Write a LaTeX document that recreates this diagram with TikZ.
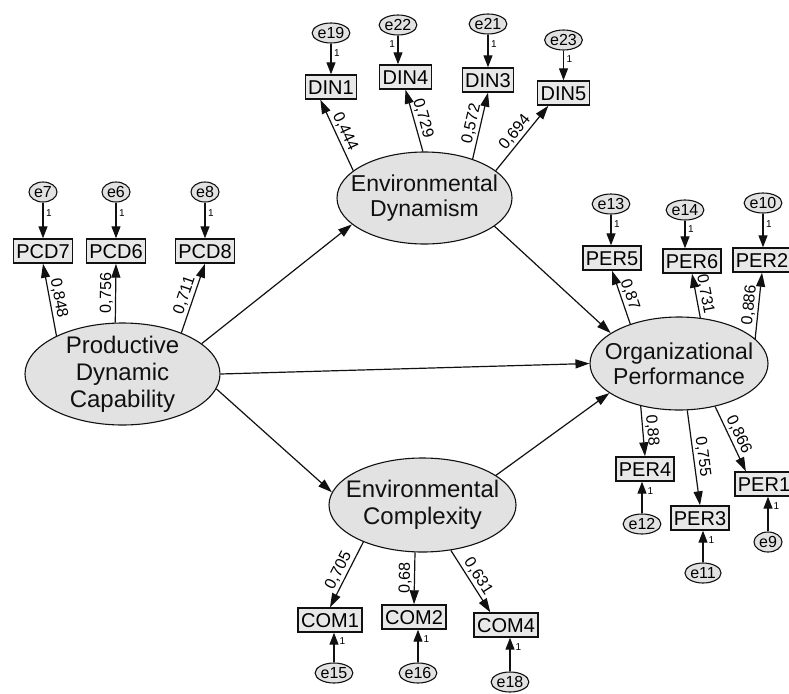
\documentclass[tikz,border=0pt]{standalone}
\usepackage{fontspec}
\setmainfont{Liberation Sans}
\usetikzlibrary{shapes.geometric,arrows.meta}
\definecolor{latfill}{HTML}{E2E2E2}
\definecolor{boxfill}{HTML}{E8E8E8}
\definecolor{linec}{HTML}{111111}
\begin{document}
\begin{tikzpicture}[x=1pt,y=-1pt,
 latent/.style={ellipse,draw=linec,line width=1.1pt,fill=latfill,inner sep=0pt},
 lattext/.style={align=center,inner sep=0pt,text=linec},
 obs/.style={rectangle,draw=linec,line width=1.4pt,fill=boxfill,font=\fontsize{20}{22}\selectfont,inner xsep=3pt,inner ysep=0pt,minimum height=24pt,text height=14.5pt,text depth=0pt},
 err/.style={ellipse,draw=linec,line width=1.1pt,fill=latfill,inner sep=0pt,minimum width=34pt,minimum height=20pt,font=\fontsize{16}{16}\selectfont},
 errs/.style={err,minimum width=28pt},
 arr/.style={draw=linec,line width=1.2pt,-{Triangle[length=14pt,width=9pt]}},
 earr/.style={draw=linec,line width=1.2pt,-{Triangle[length=12pt,width=9pt]}},
 lab/.style={font=\fontsize{16}{16}\selectfont,inner sep=2pt,midway,sloped,above},
 one/.style={font=\fontsize{10}{10}\selectfont,inner sep=1pt}
]
\useasboundingbox (0,0) rectangle (789,693);
\fill[white] (0,0) rectangle (789,693);

% latent variables
\node[latent,minimum width=195pt,minimum height=102pt] (PCD) at (122.5,374) {};
\node[lattext,font=\fontsize{24}{27}\selectfont] at (PCD) {Productive\\Dynamic\\Capability};
\node[latent,minimum width=175pt,minimum height=92pt] (ED) at (424.5,198) {};
\node[lattext,font=\fontsize{23}{25}\selectfont] at (ED) {Environmental\\Dynamism};
\node[latent,minimum width=178pt,minimum height=93pt] (OP) at (679,363.5) {};
\node[lattext,font=\fontsize{23}{25}\selectfont] at (OP) {Organizational\\Performance};
\node[latent,minimum width=187pt,minimum height=94pt] (EC) at (422.5,505) {};
\node[lattext,font=\fontsize{24}{27}\selectfont] at (EC) {Environmental\\Complexity};

% observed variables
\node[obs] (DIN1) at (331,87) {DIN1};
\node[obs] (DIN4) at (405.5,77) {DIN4};
\node[obs] (DIN3) at (488,80) {DIN3};
\node[obs] (DIN5) at (563.5,93) {DIN5};
\node[obs] (PCD7) at (43,251) {PCD7};
\node[obs] (PCD6) at (116,251) {PCD6};
\node[obs] (PCD8) at (205,251) {PCD8};
\node[obs] (PER5) at (612,258) {PER5};
\node[obs] (PER6) at (692,261) {PER6};
\node[obs] (PER2) at (762,260) {PER2};
\node[obs] (PER4) at (645,469) {PER4};
\node[obs] (PER3) at (700,518) {PER3};
\node[obs] (PER1) at (764,484) {PER1};
\node[obs] (COM1) at (330,620) {COM1};
\node[obs] (COM2) at (414,617) {COM2};
\node[obs] (COM4) at (506,625) {COM4};

% error terms
\node[err] (e19) at (331,33) {e19};
\node[err] (e22) at (398,25) {e22};
\node[err] (e21) at (488,24) {e21};
\node[err] (e23) at (563.5,40) {e23};
\node[errs] (e7) at (43,192) {e7};
\node[errs] (e6) at (116,192) {e6};
\node[errs] (e8) at (205,192) {e8};
\node[err] (e13) at (611,204) {e13};
\node[err] (e14) at (685,210) {e14};
\node[err] (e10) at (763,203) {e10};
\node[err] (e12) at (642,524) {e12};
\node[err] (e11) at (703,573) {e11};
\node[errs] (e9) at (768,542) {e9};
\node[err] (e15) at (334,673) {e15};
\node[err] (e16) at (418,673) {e16};
\node[err] (e18) at (510,682) {e18};

% structural paths
\draw[arr] (PCD.21) -- (ED.-160.6);
\draw[arr] (PCD.0) -- (OP.180);
\draw[arr] (PCD.-9.5) -- (EC.172.4);
\draw[arr] (ED.-22.5) -- (OP.156.4);
\draw[arr] (EC.22.5) -- (OP.-157.4);

% loadings
\draw[arr] (ED.159) -- (DIN1.-130) node[lab]{0,444};
\draw[arr] (ED.92) -- (DIN4.south) node[lab]{0,729};
\draw[arr] (ED.39.5) -- (DIN3.south) node[lab]{0,572};
\draw[arr] (ED.21) -- (DIN5.-140) node[lab]{0,694};
\draw[arr] (PCD.150) -- (PCD7.south) node[lab]{0,848};
\draw[arr] (PCD.98) -- (PCD6.south) node[lab]{0,756};
\draw[arr] (PCD.35) -- (PCD8.south) node[lab]{0,711};
\draw[arr] (OP.141.5) -- (PER5.south) node[lab]{0,87};
\draw[arr] (OP.65.7) -- (PER6.south) node[lab]{0,731};
\draw[arr] (OP.18.5) -- (PER2.south) node[lab]{0,886};
\draw[arr] (OP.-132) -- (PER4.north) node[lab]{0,88};
\draw[arr] (OP.-80.5) -- (PER3.north) node[lab]{0,755};
\draw[arr] (OP.-50) -- (PER1.145) node[lab]{0,866};
\draw[arr] (EC.-148) -- (COM1.north) node[lab]{0,705};
\draw[arr] (EC.-99) -- (COM2.north) node[lab]{0,68};
\draw[arr] (EC.-58) -- (COM4.141) node[lab]{0,631};

% error arrows (top)
\draw[earr] (e19.south) -- (e19.south |- DIN1.north) node[one,pos=0.3,right,xshift=1.5pt]{1};
\draw[earr] (e22.south) -- (e22.south |- DIN4.north) node[one,pos=0.3,left,xshift=-1.5pt]{1};
\draw[earr] (e21.south) -- (e21.south |- DIN3.north) node[one,pos=0.3,right,xshift=1.5pt]{1};
\draw[earr] (e23.south) -- (e23.south |- DIN5.north) node[one,pos=0.3,right,xshift=1.5pt]{1};
\draw[earr] (e7.south) -- (e7.south |- PCD7.north) node[one,pos=0.3,right,xshift=1.5pt]{1};
\draw[earr] (e6.south) -- (e6.south |- PCD6.north) node[one,pos=0.3,right,xshift=1.5pt]{1};
\draw[earr] (e8.south) -- (e8.south |- PCD8.north) node[one,pos=0.3,right,xshift=1.5pt]{1};
\draw[earr] (e13.south) -- (e13.south |- PER5.north) node[one,pos=0.3,right,xshift=1.5pt]{1};
\draw[earr] (e14.south) -- (e14.south |- PER6.north) node[one,pos=0.3,right,xshift=1.5pt]{1};
\draw[earr] (e10.south) -- (e10.south |- PER2.north) node[one,pos=0.3,right,xshift=1.5pt]{1};
% error arrows (bottom)
\draw[earr] (e12.north) -- (e12.north |- PER4.south) node[one,pos=0.72,right,xshift=4pt]{1};
\draw[earr] (e11.north) -- (e11.north |- PER3.south) node[one,pos=0.72,right,xshift=4pt]{1};
\draw[earr] (e9.north) -- (e9.north |- PER1.south) node[one,pos=0.72,right,xshift=4pt]{1};
\draw[earr] (e15.north) -- (e15.north |- COM1.south) node[one,pos=0.72,right,xshift=4pt]{1};
\draw[earr] (e16.north) -- (e16.north |- COM2.south) node[one,pos=0.72,right,xshift=4pt]{1};
\draw[earr] (e18.north) -- (e18.north |- COM4.south) node[one,pos=0.72,right,xshift=4pt]{1};
\end{tikzpicture}
\end{document}
